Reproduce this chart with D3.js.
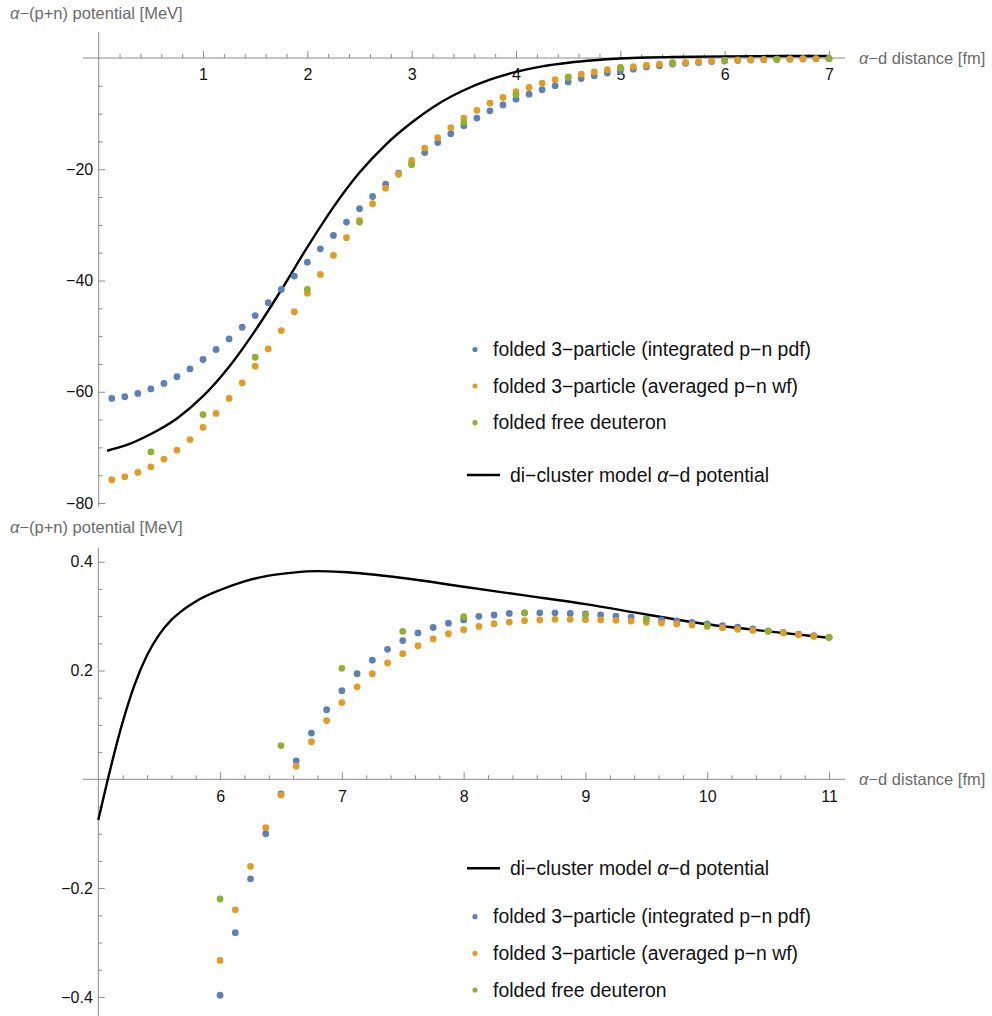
<!DOCTYPE html>
<html>
<head>
<meta charset="utf-8">
<script src="https://cdn.jsdelivr.net/npm/d3@7"></script>
<style>
  html, body { margin: 0; padding: 0; background: #fff; }
  svg { display: block; font-family: "Liberation Sans", Arial, Helvetica, sans-serif; }
</style>
</head>
<body>
<svg id="chart" width="992" height="1016"></svg>
<script>
// ---------------- DATA ----------------
const topX = [0.125,0.25,0.375,0.5,0.625,0.75,0.875,1.0,1.125,1.25,1.375,1.5,1.625,1.75,1.875,2.0,
  2.125,2.25,2.375,2.5,2.625,2.75,2.875,3.0,3.125,3.25,3.375,3.5,3.625,3.75,3.875,4.0,
  4.125,4.25,4.375,4.5,4.625,4.75,4.875,5.0,5.125,5.25,5.375,5.5,5.625,5.75,5.875,6.0,
  6.125,6.25,6.375,6.5,6.625,6.75,6.875,7.0];
const topIntegrated = [-61.2,-60.9,-60.3,-59.5,-58.5,-57.3,-55.9,-54.2,-52.4,-50.5,-48.4,-46.3,-44.0,-41.6,-39.2,-36.7,
  -34.3,-31.9,-29.5,-27.1,-24.9,-22.7,-20.7,-19.0,-17.0,-15.2,-13.6,-12.2,-10.8,-9.5,-8.45,-7.4,
  -6.5,-5.7,-5.0,-4.3,-3.7,-3.2,-2.7,-2.3,-2.0,-1.6,-1.4,-1.1,-0.95,-0.8,-0.65,-0.55,
  -0.45,-0.38,-0.32,-0.27,-0.22,-0.18,-0.15,-0.12];
const topAveraged = [-75.8,-75.3,-74.5,-73.5,-72.1,-70.5,-68.6,-66.4,-63.9,-61.2,-58.4,-55.4,-52.3,-49.0,-45.6,-42.3,
  -38.9,-35.5,-32.3,-29.2,-26.2,-23.4,-20.9,-18.4,-16.2,-14.3,-12.5,-10.8,-9.4,-8.1,-7.1,-6.05,
  -5.3,-4.5,-3.9,-3.4,-2.9,-2.5,-2.1,-1.75,-1.55,-1.3,-1.1,-0.9,-0.8,-0.65,-0.55,-0.42,
  -0.36,-0.3,-0.25,-0.2,-0.16,-0.13,-0.1,-0.08];
const topFreeX = [0.5,1.0,1.5,2.0,2.5,3.0,3.5,4.0,4.5,5.0,5.5,6.0,6.5,7.0];
const topFree = [-70.8,-64.1,-53.8,-41.6,-29.5,-19.2,-11.6,-6.6,-3.5,-1.7,-0.85,-0.42,-0.2,-0.08];
const topCurveX = [0.08,0.25,0.5,0.75,1.0,1.25,1.5,1.75,2.0,2.25,2.5,2.75,3.0,3.25,3.5,3.75,4.0,4.25,4.5,4.75,5.0,5.25,5.5,6.0,6.5,7.0];
const topCurve = [-70.6,-69.7,-67.6,-64.8,-60.8,-55.5,-49.0,-41.7,-34.0,-26.8,-20.6,-15.6,-11.6,-8.3,-5.8,-3.9,-2.5,-1.5,-0.85,-0.4,-0.1,0.08,0.18,0.3,0.35,0.37];

const botX = [6.0,6.125,6.25,6.375,6.5,6.625,6.75,6.875,7.0,7.125,7.25,7.375,7.5,7.625,7.75,7.875,8.0,
  8.125,8.25,8.375,8.5,8.625,8.75,8.875,9.0,9.125,9.25,9.375,9.5,9.625,9.75,9.875,10.0,
  10.125,10.25,10.375,10.5,10.625,10.75,10.875,11.0];
const botIntegrated = [-0.397,-0.282,-0.183,-0.100,-0.027,0.034,0.085,0.128,0.163,0.194,0.219,0.239,0.255,0.269,0.279,0.287,0.293,
  0.2995,0.302,0.305,0.306,0.306,0.306,0.305,0.304,0.302,0.300,0.298,0.295,0.293,0.291,0.2885,0.2855,
  0.2825,0.2795,0.2765,0.273,0.270,0.267,0.264,0.261];
const botAveraged = [-0.333,-0.240,-0.160,-0.089,-0.029,0.024,0.069,0.108,0.141,0.170,0.194,0.214,0.231,0.2455,0.258,0.2677,0.275,
  0.281,0.286,0.289,0.2916,0.2928,0.294,0.294,0.2934,0.2928,0.2922,0.291,0.2885,0.2873,0.2855,0.2836,0.281,
  0.2787,0.2756,0.2737,0.272,0.269,0.2658,0.2627,0.2607];
const botFreeX = [6.0,6.5,7.0,7.5,8.0,8.5,9.0,9.5,10.0,10.5,11.0];
const botFree = [-0.220,0.062,0.204,0.272,0.299,0.306,0.302,0.294,0.283,0.272,0.261];
const botCurveX = [5.0,5.1,5.2,5.3,5.4,5.5,5.6,5.7,5.8,6.0,6.2,6.4,6.6,6.8,7.0,7.5,8.0,8.5,9.0,9.5,10.0,10.5,11.0];
const botCurve = [-0.075,0.02,0.105,0.175,0.228,0.266,0.293,0.312,0.327,0.348,0.364,0.3745,0.380,0.3826,0.381,0.370,0.354,0.338,0.322,0.303,0.285,0.272,0.260];

const topXTicks = [1,2,3,4,5,6,7];
const topYTicks = [-80,-60,-40,-20];
const botXTicks = [6,7,8,9,10,11];
const botYTicks = [-0.4,-0.2,0.2,0.4];

const seriesNames = ["folded 3\u2212particle (integrated p\u2212n pdf)",
                     "folded 3\u2212particle (averaged p\u2212n wf)",
                     "folded free deuteron"];
const colors = ["#5e81b5", "#e19c24", "#8fb032"];

// ---------------- DRAW ----------------
const svg = d3.select("#chart");
const axisColor = "#8a8a8a";
const labelColor = "#6b6b6b";

function range(a, b, s) { const out = []; for (let v = a; v <= b + 1e-9; v += s) out.push(+v.toFixed(4)); return out; }

function panel(cfg) {
  const g = svg.append("g");
  const x = d3.scaleLinear().domain(cfg.xDomain).range(cfg.xRange);
  const y = d3.scaleLinear().domain(cfg.yDomain).range(cfg.yRange);
  const y0 = y(0), x0 = cfg.xRange[0];

  g.append("line").attr("x1", cfg.xLine[0]).attr("x2", cfg.xLine[1]).attr("y1", y0).attr("y2", y0)
    .attr("stroke", axisColor).attr("stroke-width", 1);
  g.append("line").attr("x1", x0).attr("x2", x0).attr("y1", cfg.yLine[0]).attr("y2", cfg.yLine[1])
    .attr("stroke", axisColor).attr("stroke-width", 1);

  const xMinor = cfg.xMinor.filter(v => !cfg.xTicks.some(t => Math.abs(t - v) < 1e-6));
  const gxm = g.append("g").attr("transform", `translate(0,${y0})`)
    .call(d3.axisBottom(x).tickValues(xMinor).tickSizeInner(-4).tickSizeOuter(0).tickFormat(""));
  const gx = g.append("g").attr("transform", `translate(0,${y0})`)
    .call(d3.axisBottom(x).tickValues(cfg.xTicks).tickSizeInner(-7).tickSizeOuter(0).tickPadding(11)
      .tickFormat(d3.format("d")));
  const yMinor = cfg.yMinor.filter(v => !cfg.yTicks.some(t => Math.abs(t - v) < 1e-6) && Math.abs(v) > 1e-9);
  const gym = g.append("g").attr("transform", `translate(${x0},0)`)
    .call(d3.axisLeft(y).tickValues(yMinor).tickSizeInner(-4).tickSizeOuter(0).tickFormat(""));
  const gy = g.append("g").attr("transform", `translate(${x0},0)`)
    .call(d3.axisLeft(y).tickValues(cfg.yTicks).tickSizeInner(-6.5).tickSizeOuter(0).tickPadding(5.5)
      .tickFormat(cfg.yFormat));
  [gxm, gx, gym, gy].forEach(a => {
    a.select(".domain").remove();
    a.selectAll(".tick line").attr("stroke", axisColor);
    a.selectAll(".tick text").attr("fill", "#111").style("font-size", "16px")
      .style("font-family", '"Liberation Sans", Arial, sans-serif');
  });

  const yl = g.append("text").attr("x", 10).attr("y", cfg.yLabelY).attr("fill", labelColor)
    .style("font-size", "16.5px");
  yl.append("tspan").style("font-style", "italic").text("\u03B1");
  yl.append("tspan").text("\u2212(p+n) potential [MeV]");
  const xl = g.append("text").attr("x", 859).attr("y", y0).attr("dy", "0.35em").attr("fill", labelColor)
    .style("font-size", "16.5px");
  xl.append("tspan").style("font-style", "italic").text("\u03B1");
  xl.append("tspan").text("\u2212d distance [fm]");

  const curveData = cfg.curveX.map((v, i) => [v, cfg.curve[i]]);
  g.append("path").datum(curveData)
    .attr("d", d3.line().x(d => x(d[0])).y(d => y(d[1])).curve(d3.curveMonotoneX))
    .attr("fill", "none").attr("stroke", "#000").attr("stroke-width", 2.4);

  const sets = [
    cfg.pX.map((v, i) => [v, cfg.s1[i]]),
    cfg.pX.map((v, i) => [v, cfg.s2[i]]),
    cfg.fX.map((v, i) => [v, cfg.s3[i]])
  ];
  sets.forEach((s, k) => {
    g.append("g").selectAll("circle").data(s).join("circle")
      .attr("cx", d => x(d[0])).attr("cy", d => y(d[1])).attr("r", 3.4).attr("fill", colors[k]);
  });

  const lg = g.append("g").style("font-size", "19.4px");
  cfg.legendDots.forEach((yy, k) => {
    lg.append("circle").attr("cx", 475).attr("cy", yy).attr("r", 2.6).attr("fill", colors[k]);
    lg.append("text").attr("x", 493).attr("y", yy).attr("dy", "0.35em").attr("fill", "#111").text(seriesNames[k]);
  });
  lg.append("line").attr("x1", 467).attr("x2", 500).attr("y1", cfg.legendLine).attr("y2", cfg.legendLine)
    .attr("stroke", "#000").attr("stroke-width", 2.4);
  const lt = lg.append("text").attr("x", 510).attr("y", cfg.legendLine).attr("dy", "0.35em").attr("fill", "#111");
  lt.append("tspan").text("di\u2212cluster model ");
  lt.append("tspan").style("font-style", "italic").text("\u03B1");
  lt.append("tspan").text("\u2212d potential");
}

panel({
  xDomain: [0, 7], xRange: [98.7, 829],
  yDomain: [0, -80], yRange: [58, 503],
  xLine: [83, 845], yLine: [32, 507],
  xTicks: topXTicks, xMinor: range(0.2, 7.0, 0.2),
  yTicks: topYTicks, yMinor: range(-80, 0, 5),
  yFormat: d3.format("d"),
  yLabelY: 19,
  curveX: topCurveX, curve: topCurve,
  pX: topX, s1: topIntegrated, s2: topAveraged, fX: topFreeX, s3: topFree,
  legendDots: [349.5, 386, 422.7], legendLine: 475
});

panel({
  xDomain: [5, 11], xRange: [98.3, 829],
  yDomain: [0.4, -0.4], yRange: [561.7, 996.9],
  xLine: [83, 845], yLine: [548, 1016],
  xTicks: botXTicks, xMinor: range(5.2, 11.0, 0.2),
  yTicks: botYTicks, yMinor: range(-0.45, 0.4, 0.05),
  yFormat: d3.format(".1f"),
  yLabelY: 533,
  curveX: botCurveX, curve: botCurve,
  pX: botX, s1: botIntegrated, s2: botAveraged, fX: botFreeX, s3: botFree,
  legendDots: [916.7, 953.3, 990], legendLine: 868.3
});
</script>
</body>
</html>
